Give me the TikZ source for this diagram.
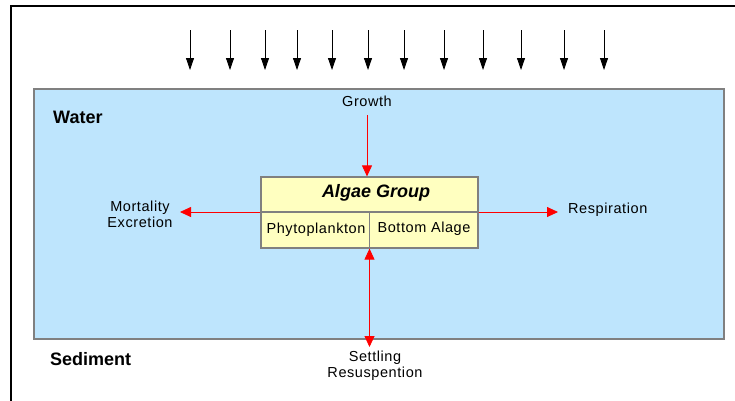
\documentclass[tikz,border=0pt]{standalone}
\usepackage{fontspec}
\setmainfont{Liberation Sans}
\newfontfamily\lbl{Liberation Sans}[LetterSpace=4]
\usetikzlibrary{arrows.meta}
\definecolor{waterblue}{RGB}{190,229,253}
\definecolor{algaeyellow}{RGB}{255,255,192}
\definecolor{bordergray}{RGB}{128,128,128}
\tikzset{
  flux/.style={draw=red, line width=0.8pt, -{Triangle[length=11pt,width=10pt]}},
  fluxboth/.style={draw=red, line width=0.8pt, {Triangle[length=11pt,width=10pt]}-{Triangle[length=11pt,width=10pt]}},
  light/.style={draw=black, line width=0.8pt, -{Triangle[length=12pt,width=8pt]}},
  lbltext/.style={font=\lbl\fontsize{14.5}{17}\selectfont, inner sep=0pt, align=center},
  zonetext/.style={font=\bfseries\fontsize{18}{21}\selectfont, inner sep=0pt, anchor=west}
}
\begin{document}
\begin{tikzpicture}[x=1pt,y=-1pt]
\useasboundingbox (0,0) rectangle (735,400);
% outer frame
\draw[line width=2pt] (11,402) -- (11,6) -- (737,6);
% water body
\draw[fill=waterblue, draw=bordergray, line width=1.5pt] (34,89) rectangle (724,339);
% light arrows
\foreach \x [count=\i] in {190,230,265,297,332,368,404,444,483,521,564,604}{
  \coordinate (ls\i) at (\x,30);
  \coordinate (le\i) at (\x,70);
  \draw[light] (ls\i) -- (le\i);
}
% zone labels
\node[zonetext] (water) at (53,117) {Water};
\node[zonetext] (sediment) at (50,359) {Sediment};
% algae box
\node[draw=bordergray, fill=algaeyellow, line width=1.2pt, minimum width=217pt, minimum height=71pt, inner sep=0pt] (algae) at (369.5,212.5) {};
\draw[bordergray, line width=1.2pt] (261,212) -- (478,212);
\draw[bordergray, line width=1.2pt] (369.5,212) -- (369.5,248);
\node[font=\bfseries\itshape\fontsize{18}{21}\selectfont, inner sep=0pt] (title) at (376,193) {Algae Group};
\node[lbltext] (phyto) at (316,230) {Phytoplankton};
\node[lbltext] (bottom) at (424,229) {Bottom Alage};
% process labels
\node[lbltext] (growth) at (367,101) {Growth};
\node[lbltext] (mort) at (140,214) {Mortality\\[-1pt]Excretion};
\node[lbltext, anchor=west] (resp) at (568,210) {Respiration};
\node[lbltext] (settle) at (375,366) {Settling\\[-1pt]Resuspention};
% connector end points
\coordinate (gEnd) at (367,115);
\coordinate (mEnd) at (180,212);
\coordinate (rEnd) at (558,212);
\coordinate (sEnd) at (369.5,347);
% fluxes
\draw[flux] (gEnd) -- (gEnd |- algae.north);
\draw[flux] (algae.west |- mEnd) -- (mEnd);
\draw[flux] (algae.east |- rEnd) -- (rEnd);
\draw[fluxboth] (sEnd) -- (algae.south);
\end{tikzpicture}
\end{document}
